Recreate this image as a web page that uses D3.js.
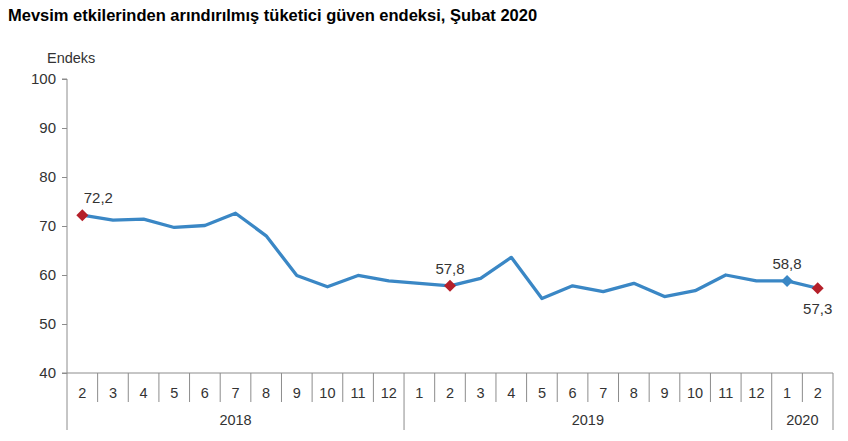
<!DOCTYPE html>
<html><head><meta charset="utf-8">
<script src="https://cdn.jsdelivr.net/npm/d3@7"></script>
<style>
body{margin:0;background:#fff;}
text{font-family:"Liberation Sans",Arial,sans-serif;}
</style></head>
<body><svg id="c" width="848" height="441"></svg>
<script>
const months = ["2","3","4","5","6","7","8","9","10","11","12","1","2","3","4","5","6","7","8","9","10","11","12","1","2"];
const years = ["2018","2018","2018","2018","2018","2018","2018","2018","2018","2018","2018","2019","2019","2019","2019","2019","2019","2019","2019","2019","2019","2019","2019","2020","2020"];
const values = [72.2,71.2,71.4,69.7,70.1,72.6,68.0,59.9,57.6,59.9,58.8,58.3,57.8,59.3,63.6,55.2,57.8,56.6,58.3,55.6,56.8,60.0,58.8,58.8,57.3];
const yTicks = [40,50,60,70,80,90,100];
const labelled = [{i:0,text:"72,2",pos:"above",color:"#b5202a"},{i:12,text:"57,8",pos:"above",color:"#b5202a"},{i:23,text:"58,8",pos:"above",color:"#3a87c5"},{i:24,text:"57,3",pos:"below",color:"#b5202a"}];

(function(){
const svg = d3.select("#c");
const L=67, R=833, T=79, B=373;
const x = d3.scaleBand().domain(d3.range(months.length)).range([L,R]);
const y = d3.scaleLinear().domain([40,100]).range([B,T]);
const axisColor="#8c8c8c", textColor="#333";

svg.append("text").attr("x",8).attr("y",21).attr("font-size",16.5).attr("font-weight","bold").attr("fill","#000")
  .text("Mevsim etkilerinden arındırılmış tüketici güven endeksi, Şubat 2020");
svg.append("text").attr("x",47).attr("y",63).attr("font-size",14.5).attr("fill",textColor).text("Endeks");

const ya = svg.append("g").attr("transform",`translate(${L},0)`)
  .call(d3.axisLeft(y).tickValues(yTicks).tickSize(5).tickPadding(6).tickFormat(d3.format("d")));
ya.select(".domain").attr("stroke",axisColor).attr("d",`M-5,${T}H0V${B}`);
ya.selectAll(".tick line").attr("stroke",axisColor);
ya.selectAll(".tick text").attr("font-size",15).attr("fill",textColor).attr("font-family","Liberation Sans, Arial, sans-serif");

svg.append("line").attr("x1",L-5).attr("x2",R).attr("y1",B).attr("y2",B).attr("stroke",axisColor);
const bw = x.bandwidth();
months.forEach((m,i)=>{
  const xs = x(i);
  const isYearStart = i===0 || years[i]!==years[i-1];
  svg.append("line").attr("x1",xs).attr("x2",xs).attr("y1",B).attr("y2",isYearStart?430:402).attr("stroke",axisColor);
  svg.append("text").attr("x",xs+bw/2).attr("y",397.5).attr("text-anchor","middle").attr("font-size",14.5).attr("fill",textColor).text(m);
});
svg.append("line").attr("x1",R).attr("x2",R).attr("y1",B).attr("y2",430).attr("stroke",axisColor);
const yearGroups = d3.groups(d3.range(months.length), i=>years[i]);
yearGroups.forEach(([yr,idx])=>{
  const x0 = x(idx[0]), x1 = x(idx[idx.length-1])+bw;
  svg.append("text").attr("x",(x0+x1)/2).attr("y",424.5).attr("text-anchor","middle").attr("font-size",14.5).attr("fill",textColor).text(yr);
});

const line = d3.line().x((d,i)=>x(i)+bw/2).y(d=>y(d));
svg.append("path").datum(values).attr("d",line).attr("fill","none").attr("stroke","#3a87c5").attr("stroke-width",3.3).attr("stroke-linejoin","round");

const s=6;
labelled.forEach(l=>{
  const cx = x(l.i)+bw/2, cy = y(values[l.i]);
  svg.append("path").attr("d",`M0,${-s}L${s},0L0,${s}L${-s},0Z`).attr("transform",`translate(${cx},${cy})`)
    .attr("fill",l.color);
  svg.append("text").attr("x",cx+(l.i===0?16:0)).attr("y",l.pos==="above"?cy-12:cy+26)
    .attr("text-anchor","middle").attr("font-size",15).attr("fill",textColor).text(l.text);
});
})();
</script></body></html>
